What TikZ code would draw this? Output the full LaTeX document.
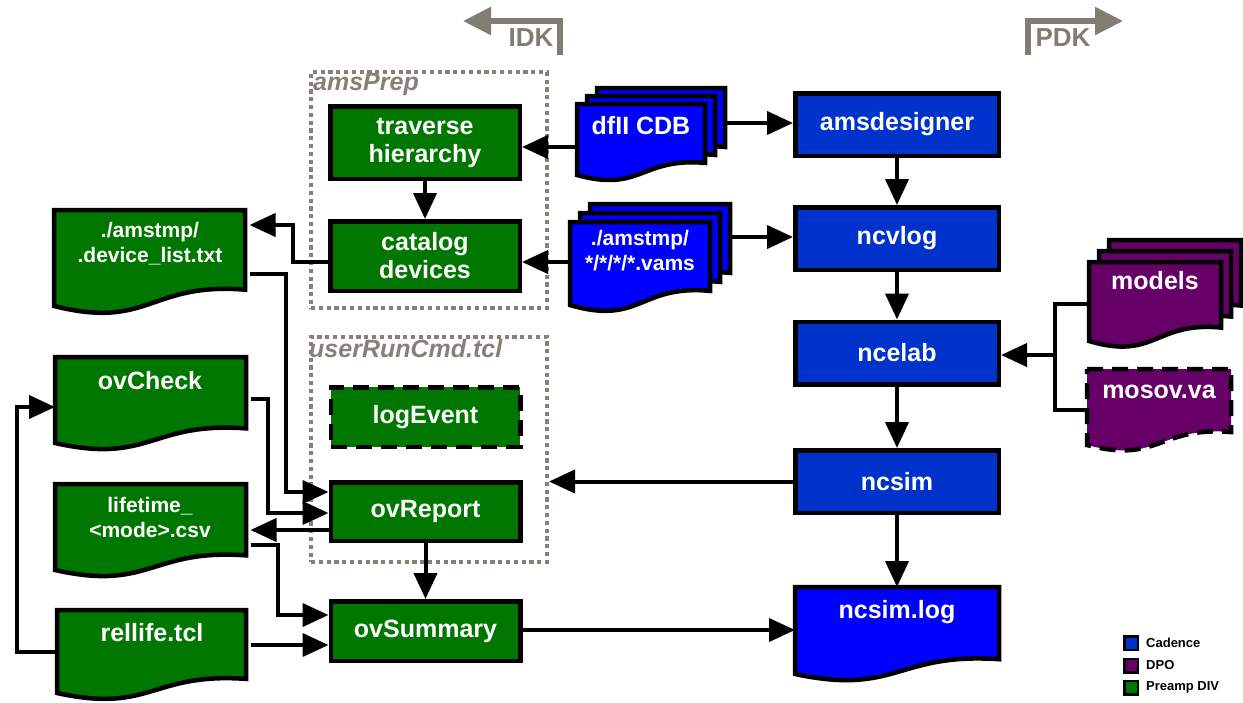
\documentclass[tikz,border=0pt]{standalone}
\usepackage{fontspec}
\setmainfont{Liberation Sans}
\usetikzlibrary{arrows.meta,calc}

\definecolor{pgreen}{HTML}{007700}
\definecolor{cblue}{HTML}{0033CC}
\definecolor{dblue}{HTML}{0000FF}
\definecolor{dpurple}{HTML}{660066}
\definecolor{framegray}{HTML}{858179}
\definecolor{kitgray}{HTML}{817D72}

\newcommand\boxfont{\bfseries\fontsize{25}{28}\selectfont}
\newcommand\smallboxfont{\bfseries\fontsize{21}{25}\selectfont}
\newcommand\keyfont{\bfseries\fontsize{13}{15}\selectfont}
\newcommand\kitfont{\bfseries\fontsize{26}{28}\selectfont}

% outline of a document sheet: flat top, wavy bottom edge
% #1,#2 = top left, #3 = right x, #4 = y of the lower left corner, #5 = style
\newcommand\docpath[5]{%
  \pgfmathsetmacro\dw{#3-#1}\pgfmathsetmacro\dh{#4-#2}%
  \draw[#5] (#1,#2) -- (#3,#2) -- (#3,#4-0.17*\dh)
    .. controls (#1+0.5*\dw,#4-0.25*\dh) and (#1+0.5*\dw,#4+0.25*\dh) .. (#1,#4) -- cycle;}
% invisible rectangle over a document sheet, used as connector target
\newcommand\docnode[5]{%
  \pgfmathsetmacro\dw{#4-#2}\pgfmathsetmacro\dh{#5-#3}%
  \node[docarea, minimum width=\dw pt, minimum height=\dh pt, anchor=north west] (#1) at (#2,#3) {};}

\tikzset{
  boxline/.style={draw=black, line width=4.5pt},
  gbox/.style={boxline, fill=pgreen, text=white, font=\boxfont, align=center,
    minimum width=189.5pt, inner sep=0pt},
  bbox/.style={boxline, fill=cblue, text=white, font=\boxfont, align=center,
    minimum width=203.5pt, minimum height=62.5pt, inner sep=0pt},
  longdash/.style={dash pattern=on 16pt off 9pt},
  docgreen/.style={boxline, fill=pgreen},
  docblue/.style={boxline, fill=dblue},
  docpurple/.style={boxline, fill=dpurple},
  docarea/.style={draw=none, inner sep=0pt, outer sep=2.25pt, rectangle},
  doctext/.style={text=white, font=\boxfont, align=center, inner sep=0pt},
  smalldoctext/.style={text=white, font=\smallboxfont, align=center, inner sep=0pt},
  container/.style={draw=framegray, line width=4pt, dash pattern=on 4.2pt off 3.6pt,
    inner sep=0pt, anchor=north west},
  grouplabel/.style={text=framegray, font=\bfseries\itshape\fontsize{25}{28}\selectfont,
    inner sep=0pt, anchor=base west},
  conn/.style={line width=4pt, -{Triangle[length=26pt,width=23pt]}},
  plainline/.style={line width=4pt},
  keysq/.style={draw=black, line width=2.5pt, minimum size=13.5pt, inner sep=0pt},
  keytext/.style={font=\keyfont, anchor=west, inner sep=0pt},
  kittext/.style={text=kitgray, font=\kitfont, inner sep=0pt},
  kitarrow/.style={draw=kitgray, line width=5.5pt, -{Triangle[length=28pt,width=27pt]}},
}

\begin{document}
\begin{tikzpicture}[x=1pt,y=-1pt]
\useasboundingbox (0,0) rectangle (1243,702);

% ---------- group frames ----------
\node[container, minimum width=236pt, minimum height=236pt] (amsprep) at (309,70) {};
\node[container, minimum width=236pt, minimum height=225pt] (urc) at (309,335) {};
\node[grouplabel] (amsprep-l) at (313,90) {amsPrep};
\node[grouplabel] (urc-l) at (309,357) {userRunCmd.tcl};

% ---------- process boxes ----------
\node[gbox, minimum height=72.5pt] (trav) at (425,142.5) {traverse\\hierarchy};
\node[gbox, minimum height=69.5pt] (cat) at (425,256) {catalog\\devices};
\node[gbox, longdash, minimum height=59.5pt] (logev) at (425.5,417) {logEvent};
\node[gbox, minimum height=58.5pt] (ovrep) at (425.5,511.5) {ovReport};
\node[gbox, minimum height=59.5pt] (ovsum) at (425.5,631) {ovSummary};

\node[bbox] (amsd) at (897,124.5) {amsdesigner};
\node[bbox] (ncvlog) at (897,238.5) {ncvlog};
\node[bbox] (ncelab) at (897,353) {ncelab};
\node[bbox] (ncsim) at (897,481.5) {ncsim};

% ---------- connector targets over the document sheets ----------
\docnode{dfii}{577}{104}{705}{175}
\docnode{vams}{570}{222}{710}{305}
\docnode{models}{1089}{262}{1221}{341}
\docnode{mosov}{1087}{369}{1231}{445}
\docnode{ncsimlog}{795}{587}{999}{674}
\docnode{devlist}{54}{210}{245}{306}
\docnode{ovcheck}{55}{357}{246}{443}
\docnode{lifetime}{55}{484}{246}{570}
\docnode{rellife}{57}{610}{246}{693}
\coordinate (dpojoin) at (1053,355);

% ---------- connectors ----------
\draw[conn] (dfii.west |- 0,147) -- (trav.east |- 0,147);
\draw[conn] (dfii.east |- 0,123) -- (amsd.west |- 0,123);
\draw[conn] (trav) -- (cat);
\draw[conn] (vams.west |- 0,262) -- (cat.east |- 0,262);
\draw[conn] (vams.east |- 0,237) -- (ncvlog.west |- 0,237);
\draw[conn] (cat.west |- 0,262) -- ++(-35,0) |- (devlist.east |- 0,225);
\draw[conn] (devlist.east |- 0,274) -- ++(36,0) |- (ovrep.west |- 0,492);
\draw[conn] (ovcheck.east |- 0,399) -- ++(17,0) |- (ovrep.west |- 0,513);
\draw[conn] (ovrep.west |- 0,530) -- (lifetime.east |- 0,530);
\draw[conn] (lifetime.east |- 0,545) -- ++(27,0) |- (ovsum.west |- 0,615);
\draw[conn] (rellife.east |- 0,645) -- (ovsum.west |- 0,645);
\draw[conn] (rellife.west |- 0,652) -- ++(-40,0) |- (ovcheck.west |- 0,407);
\draw[conn] (ovrep) -- (ovsum);
\draw[conn] (ncsim.west) -- (urc.east |- ncsim.west);
\draw[conn] (amsd) -- (ncvlog);
\draw[conn] (ncvlog) -- (ncelab);
\draw[conn] (ncelab) -- (ncsim);
\draw[conn] (ncsim.south) -- (ncsim.south |- ncsimlog.north);
\draw[conn] (ovsum.east |- 0,630) -- (ncsimlog.west |- 0,630);
\draw[plainline] (models.west |- 0,304) -- ++(-34,0) |- (mosov.west |- 0,410);
\draw[conn] (dpojoin) -- (ncelab.east |- dpojoin);

% ---------- document sheets ----------
\docpath{597}{88}{725}{159}{docblue}
\docpath{587}{96}{715}{167}{docblue}
\docpath{577}{104}{705}{175}{docblue}
\node[doctext] (dfii-t) at (641,126) {dfII CDB};

\docpath{590}{204}{730}{287}{docblue}
\docpath{580}{213}{720}{296}{docblue}
\docpath{570}{222}{710}{305}{docblue}
\node[smalldoctext] (vams-t) at (640,251) {./amstmp/\\*/*/*/*.vams};

\docpath{1109}{240}{1241}{319}{docpurple}
\docpath{1099}{251}{1231}{330}{docpurple}
\docpath{1089}{262}{1221}{341}{docpurple}
\node[doctext] (models-t) at (1155,281) {models};

\docpath{1087}{369}{1231}{445}{docpurple,longdash}
\node[doctext] (mosov-t) at (1159,392) {mosov.va};

\docpath{795}{587}{999}{674}{docblue}
\node[doctext] (ncsimlog-t) at (897,612) {ncsim.log};

\docpath{54}{210}{245}{306}{docgreen}
\node[smalldoctext] (devlist-t) at (150,244) {./amstmp/\\.device\_list.txt};
\docpath{55}{357}{246}{443}{docgreen}
\node[doctext] (ovcheck-t) at (150,381) {ovCheck};
\docpath{55}{484}{246}{570}{docgreen}
\node[smalldoctext] (lifetime-t) at (150,517) {lifetime\_\\<mode>.csv};
\docpath{57}{610}{246}{693}{docgreen}
\node[doctext] (rellife-t) at (152,633) {rellife.tcl};

% ---------- IDK / PDK direction markers ----------
\node[kittext] (idk) at (531,38) {IDK};
\coordinate (idk-foot) at (560,55);
\coordinate (idk-tip) at (463,21);
\draw[kitarrow] (idk-foot) |- (idk-tip);
\node[kittext] (pdk) at (1063,38) {PDK};
\coordinate (pdk-foot) at (1028,55);
\coordinate (pdk-tip) at (1123,21);
\draw[kitarrow] (pdk-foot) |- (pdk-tip);

% ---------- key ----------
\node[keysq, fill=cblue] (key-c) at (1131,643) {};
\node[keytext] (key-ct) at (1146,643) {Cadence};
\node[keysq, fill=dpurple] (key-d) at (1131,665.5) {};
\node[keytext] (key-dt) at (1146,665.5) {DPO};
\node[keysq, fill=pgreen] (key-p) at (1131,687.5) {};
\node[keytext] (key-pt) at (1146,687.5) {Preamp DIV};
\end{tikzpicture}
\end{document}
